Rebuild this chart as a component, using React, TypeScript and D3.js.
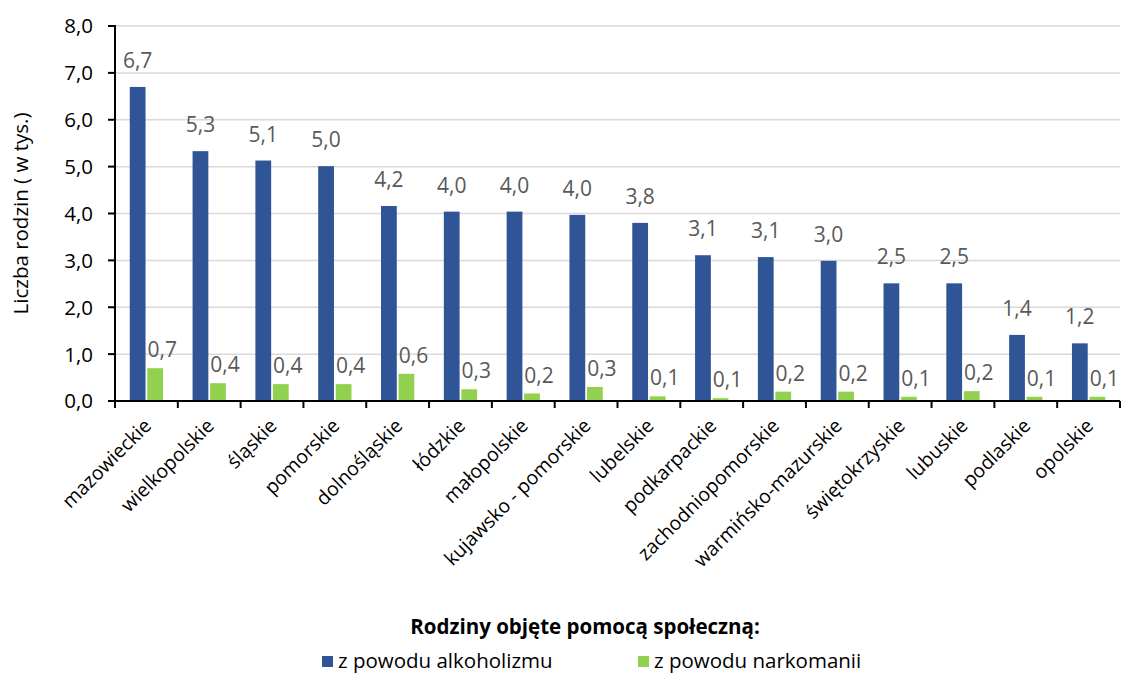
import React from "react";
import * as d3 from "d3";

// Województwa, sorted by number of families helped due to alcoholism
const regions = [
  "mazowieckie",
  "wielkopolskie",
  "śląskie",
  "pomorskie",
  "dolnośląskie",
  "łódzkie",
  "małopolskie",
  "kujawsko - pomorskie",
  "lubelskie",
  "podkarpackie",
  "zachodniopomorskie",
  "warmińsko-mazurskie",
  "świętokrzyskie",
  "lubuskie",
  "podlaskie",
  "opolskie",
];

// Families (thousands) receiving social assistance due to alcoholism
const alcoholism = [6.7, 5.33, 5.13, 5.01, 4.16, 4.04, 4.04, 3.97, 3.8, 3.11, 3.07, 2.99, 2.51, 2.51, 1.41, 1.23];

// Families (thousands) receiving social assistance due to drug addiction
const drugs = [0.7, 0.38, 0.36, 0.36, 0.58, 0.25, 0.16, 0.3, 0.1, 0.06, 0.2, 0.2, 0.09, 0.21, 0.09, 0.09];

const yTicks = [0, 1, 2, 3, 4, 5, 6, 7, 8];

const seriesNames = ["z powodu alkoholizmu", "z powodu narkomanii"];
const seriesColors = ["#2F5597", "#92D050"];

const legendTitle = "Rodziny objęte pomocą społeczną:";
const yTitle = "Liczba rodzin ( w tys.)";

const W = 1126;
const H = 673;
const plot = { left: 115, right: 1120, top: 26, bottom: 401 };
const FONT = "'Open Sans', 'Noto Sans', sans-serif";
const LABEL = "#595959";

const fmt = (v: number) => v.toFixed(1).replace(".", ",");

export default function App() {
  const x = d3.scaleBand<string>().domain(regions).range([plot.left, plot.right]).padding(0);
  const bw = x.bandwidth();
  const inner = d3
    .scaleBand<number>()
    .domain([0, 1])
    .range([bw * 0.235, bw * 0.765])
    .paddingInner(0.1)
    .paddingOuter(0);
  const y = d3.scaleLinear().domain([0, 8]).range([plot.bottom, plot.top]);
  const series = [alcoholism, drugs];

  return (
    <svg
      width={W}
      height={H}
      style={{ position: "absolute", left: 0, top: 0, background: "#fff" }}
      fontFamily={FONT}
    >
      {/* gridlines */}
      {yTicks.slice(1).map((t) => (
        <line key={"g" + t} x1={plot.left} x2={plot.right} y1={y(t)} y2={y(t)} stroke="#D9D9D9" strokeWidth={1.5} />
      ))}

      {/* bars */}
      {series.map((vals, s) =>
        regions.map((r, i) => (
          <rect
            key={`b${s}-${i}`}
            x={(x(r) as number) + (inner(s) as number)}
            y={y(vals[i])}
            width={inner.bandwidth()}
            height={plot.bottom - y(vals[i])}
            fill={seriesColors[s]}
          />
        ))
      )}

      {/* value labels */}
      {regions.map((r, i) => {
        const bx = (x(r) as number) + (inner(0) as number) + inner.bandwidth() / 2;
        const gx = (x(r) as number) + (inner(1) as number) + inner.bandwidth() / 2;
        return (
          <g key={"l" + i} fontSize={21} fill={LABEL}>
            <text x={bx} y={y(alcoholism[i]) - 19} textAnchor="middle">
              {fmt(alcoholism[i])}
            </text>
            <text x={gx + 7} y={y(drugs[i]) - 11} textAnchor="middle">
              {fmt(drugs[i])}
            </text>
          </g>
        );
      })}

      {/* y axis */}
      <line x1={plot.left} x2={plot.left} y1={plot.top - 1} y2={plot.bottom} stroke="#000" strokeWidth={2} />
      {yTicks.map((t) => (
        <g key={"t" + t}>
          <line x1={plot.left - 7} x2={plot.left} y1={y(t)} y2={y(t)} stroke="#000" strokeWidth={2} />
          <text x={93} y={y(t)} dy="0.36em" textAnchor="end" fontSize={20.5} fill="#000">
            {fmt(t)}
          </text>
        </g>
      ))}

      {/* x axis */}
      <line x1={plot.left - 7} x2={plot.right} y1={plot.bottom} y2={plot.bottom} stroke="#000" strokeWidth={2} />
      {d3.range(regions.length + 1).map((k) => {
        const px = plot.left + k * bw;
        return <line key={"xt" + k} x1={px} x2={px} y1={plot.bottom} y2={plot.bottom + 7} stroke="#000" strokeWidth={2} />;
      })}
      {regions.map((r) => {
        const cx = (x(r) as number) + bw / 2 + 6;
        const cy = plot.bottom + 26;
        return (
          <text
            key={"c" + r}
            transform={`translate(${cx},${cy}) rotate(-45)`}
            textAnchor="end"
            fontSize={19.5}
            fill="#000"
          >
            {r}
          </text>
        );
      })}

      {/* y axis title */}
      <text
        transform={`translate(28,${(plot.top + plot.bottom) / 2}) rotate(-90)`}
        textAnchor="middle"
        fontSize={20.5}
        fill="#000"
      >
        {yTitle}
      </text>

      {/* legend */}
      <text x={585} y={634} textAnchor="middle" fontSize={20.5} fontWeight="bold" fill="#000">
        {legendTitle}
      </text>
      {seriesNames.map((n, s) => {
        const lx = s === 0 ? 322 : 638;
        return (
          <g key={"lg" + s}>
            <rect x={lx} y={656} width={11} height={11} fill={seriesColors[s]} />
            <text x={lx + 16} y={668} fontSize={20.5} fill="#000">
              {n}
            </text>
          </g>
        );
      })}
    </svg>
  );
}
